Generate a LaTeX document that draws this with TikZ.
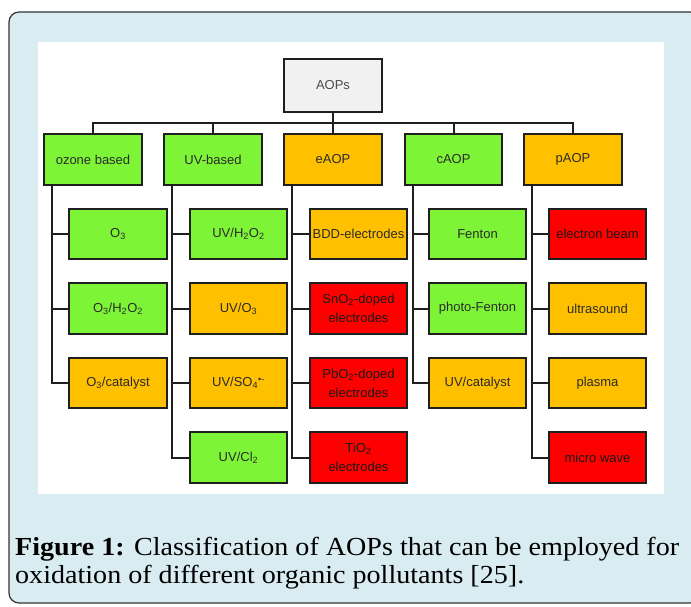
\documentclass[tikz,border=0pt]{standalone}
\usepackage{fontspec}
\setmainfont{Liberation Serif}
\newfontfamily\boxfont{Liberation Sans}
\definecolor{bgblue}{HTML}{D8ECF2}
\definecolor{framegray}{HTML}{333333}
\definecolor{aopgreen}{HTML}{7DF435}
\definecolor{aoporange}{HTML}{FFC000}
\definecolor{aopred}{HTML}{FF0000}
\definecolor{aopgray}{HTML}{F1F1F1}
\definecolor{boxtext}{HTML}{2B2B2B}
\newsavebox\capA
\newsavebox\capB
\AtBeginDocument{%
\savebox\capA{\fontsize{26}{28}\selectfont\textbf{Figure 1:} Classification of AOPs that can be employed for}%
\savebox\capB{\fontsize{26}{28}\selectfont oxidation of different organic pollutants [25].}%
}
\tikzset{
  box/.style={draw=black!88, line width=2.4pt, minimum width=97.5pt, minimum height=50.5pt,
    inner sep=1pt, align=center, text=boxtext,
    font=\boxfont\fontsize{13}{19}\selectfont},
  gbox/.style={box, fill=aopgreen},
  obox/.style={box, fill=aoporange},
  rbox/.style={box, fill=aopred, text=black!90},
  graybox/.style={box, fill=aopgray, minimum height=52.5pt, text=black!70},
  conn/.style={draw=black!88, line width=2pt},
  captext/.style={anchor=base west, inner sep=0pt, text=black!88}
}
\begin{document}
\begin{tikzpicture}[x=1pt, y=-1pt]
\useasboundingbox (0,0) rectangle (691,606);
\fill[white] (0,0) rectangle (691,606);
\draw[rounded corners=10pt, fill=bgblue, draw=framegray, line width=1.2pt] (9,12) rectangle (700,603);
\fill[white] (38,42) rectangle (664,494);

% caption
\pgfmathsetmacro\capsc{664/(\the\wd\capA)}
\node[captext] (cap1) at (15,555) {\scalebox{\capsc}[1]{\usebox\capA}};
\node[captext] (cap2) at (15,583) {\scalebox{\capsc}[1]{\usebox\capB}};

% root and top level
\node[graybox] (aops) at (333,85.5) {AOPs};
\node[gbox] (oz) at (93,159.5) {ozone based};
\node[gbox] (uv) at (213,159.5) {UV-based};
\node[obox] (ea) at (333,159.5) {eAOP};
\node[gbox] (ca) at (453.5,159.5) {cAOP};
\node[obox] (pa) at (573,159.5) {pAOP};

% ozone based
\node[gbox] (oz1) at (118,234) {O\textsubscript{3}};
\node[gbox] (oz2) at (118,308.5) {O\textsubscript{3}/H\textsubscript{2}O\textsubscript{2}};
\node[obox] (oz3) at (118,383) {O\textsubscript{3}/catalyst};
% UV based
\node[gbox] (uv1) at (238.5,234) {UV/H\textsubscript{2}O\textsubscript{2}};
\node[obox] (uv2) at (238.5,308.5) {UV/O\textsubscript{3}};
\node[obox] (uv3) at (238.5,383) {UV/SO\textsubscript{4}\textsuperscript{\textbullet-}};
\node[gbox] (uv4) at (238.5,457.5) {UV/Cl\textsubscript{2}};
% eAOP
\node[obox] (ea1) at (358.5,234) {BDD-electrodes};
\node[rbox] (ea2) at (358.5,308.5) {SnO\textsubscript{2}-doped\\electrodes};
\node[rbox] (ea3) at (358.5,383) {PbO\textsubscript{2}-doped\\electrodes};
\node[rbox] (ea4) at (358.5,457.5) {TiO\textsubscript{2}\\electrodes};
% cAOP
\node[gbox] (ca1) at (477.5,234) {Fenton};
\node[gbox] (ca2) at (477.5,308.5) {photo-Fenton};
\node[obox] (ca3) at (477.5,383) {UV/catalyst};
% pAOP
\node[rbox] (pa1) at (597.5,234) {electron beam};
\node[obox] (pa2) at (597.5,308.5) {ultrasound};
\node[obox] (pa3) at (597.5,383) {plasma};
\node[rbox] (pa4) at (597.5,457.5) {micro wave};

% connectors
\coordinate (bar) at (333,123);
\draw[conn] (aops.south) -- (bar);
\foreach \n in {oz,uv,ea,ca,pa} \draw[conn] (\n.north) |- (bar);
\foreach \p/\kids in {oz/{oz1,oz2,oz3}, uv/{uv1,uv2,uv3,uv4}, ea/{ea1,ea2,ea3,ea4}, ca/{ca1,ca2,ca3}, pa/{pa1,pa2,pa3,pa4}}
  \foreach \k in \kids \draw[conn] ([xshift=9pt]\p.south west) |- (\k.west);
\end{tikzpicture}
\end{document}
